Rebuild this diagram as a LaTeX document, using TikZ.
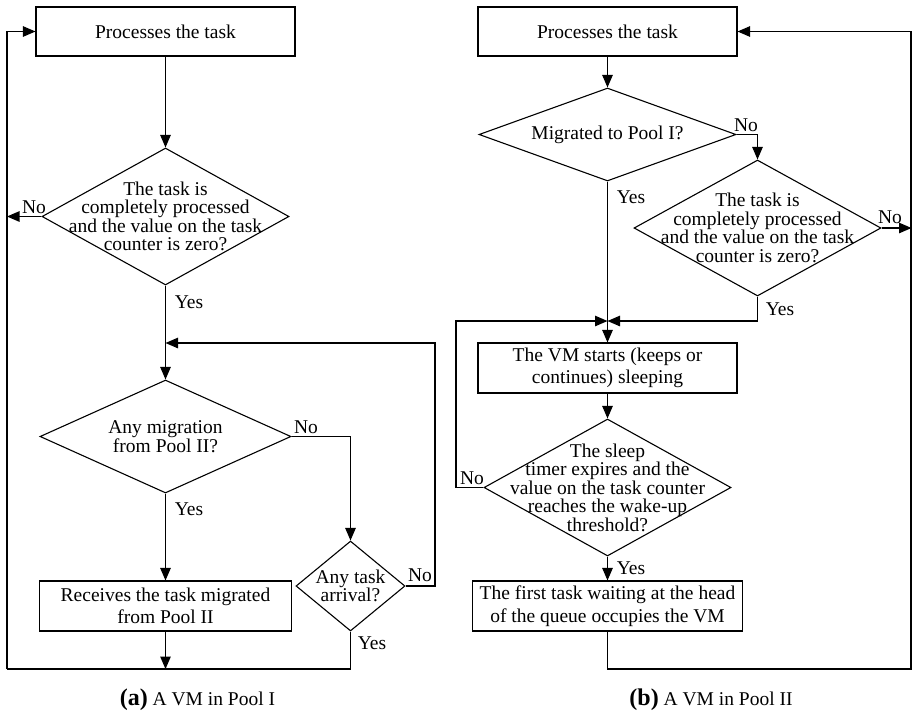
\documentclass[tikz,border=0pt]{standalone}
\usepackage{fontspec}
\setmainfont{Liberation Serif}
\usetikzlibrary{shapes.geometric,arrows.meta}
\newcommand\dfont{\fontsize{19.5}{18.5}\selectfont}
\newcommand\bfont{\fontsize{19.5}{22.5}\selectfont}
\tikzset{
  box/.style={draw, rectangle, line width=1.1pt, inner sep=0pt, align=center, font=\bfont},
  dia/.style={draw, diamond, line width=1.1pt, inner sep=0pt},
  dtext/.style={inner sep=0pt, align=center, font=\dfont},
  lbl/.style={inner sep=0pt, font=\dfont},
  arr/.style={line width=1.1pt, -{Triangle[length=12.5pt,width=10.5pt]}},
  ln/.style={line width=1.1pt},
}
\begin{document}
\begin{tikzpicture}[x=1pt,y=-1pt]
\useasboundingbox (0,0) rectangle (912,710);
% ---------- (a) ----------
\node[box, minimum width=259pt, minimum height=49pt] (p1) at (165.5,31.5) {Processes the task};
\node[dia, minimum width=247pt, minimum height=137pt] (d1) at (165.5,216.5) {};
\node[dtext] (t1) at (d1.center) {The task is\\completely processed\\and the value on the task\\counter is zero?};
\node[dia, minimum width=251pt, minimum height=113pt] (d2) at (165.5,436.5) {};
\node[dtext] (t2) at (d2.center) {Any migration\\from Pool II?};
\node[dia, minimum width=109pt, minimum height=90pt] (d3) at (350.5,586) {};
\node[dtext] (t3) at (d3.center) {Any task\\arrival?};
\node[box, minimum width=252pt, minimum height=50pt] (r1) at (165.5,606) {Receives the task migrated\\from Pool II};
\coordinate (lx) at (7,0);
\coordinate (bot) at (0,669);
\coordinate (rx) at (435,0);
\coordinate (mg) at (0,343);
\draw[arr] (p1.south) -- (d1.north);
\draw[arr] (d1.west) -- (d1.west -| lx);
\draw[arr] (lx |- bot) -- (lx |- p1.west) -- (p1.west);
\draw[ln] (lx |- bot) -- (d3.south |- bot) -- (d3.south);
\draw[arr] (r1.south) -- (r1.south |- bot);
\draw[arr] (d1.south) -- (d2.north);
\draw[arr] (d2.east) -| (d3.north);
\draw[arr] (d3.east) -| (rx |- mg) -- (d1.south |- mg);
\draw[arr] (d2.south) -- (r1.north);
\node[lbl] (n1) at (34,207) {No};
\node[lbl] (y1) at (189,302) {Yes};
\node[lbl] (n2) at (306,427) {No};
\node[lbl] (y2) at (189,509) {Yes};
\node[lbl] (n3) at (420,575) {No};
\node[lbl] (y3) at (372,643) {Yes};
\node[inner sep=0pt, anchor=base, font=\dfont] (capa) at (197.5,705) {{\fontsize{24}{24}\selectfont\bfseries (a)} A VM in Pool I};
% ---------- (b) ----------
\node[box, minimum width=259pt, minimum height=49pt] (p2) at (607.5,31.5) {Processes the task};
\node[dia, minimum width=257pt, minimum height=93pt] (d4) at (607.5,134.5) {};
\node[dtext] (t4) at (d4.center) {Migrated to Pool I?};
\node[dia, minimum width=247pt, minimum height=136pt] (d5) at (757.5,228) {};
\node[dtext] (t5) at (d5.center) {The task is\\completely processed\\and the value on the task\\counter is zero?};
\node[box, minimum width=259pt, minimum height=50pt] (s1) at (607.5,368) {The VM starts (keeps or\\continues) sleeping};
\node[dia, minimum width=247pt, minimum height=137pt] (d6) at (607.5,487.5) {};
\node[dtext] (t6) at (d6.center) {The sleep\\timer expires and the\\value on the task counter\\reaches the wake-up\\threshold?};
\node[box, minimum width=270pt, minimum height=50pt] (f1) at (607.5,606) {The first task waiting at the head\\of the queue occupies the VM};
\coordinate (rr) at (911,0);
\coordinate (m2) at (0,321);
\coordinate (lx2) at (456,0);
\coordinate (rend) at (911.5,0);
\draw[arr] (p2.south) -- (d4.north);
\draw[arr] (d4.east) -| (d5.north);
\draw[arr] (d5.east) -- (d5.east -| rend);
\draw[arr] (d4.south) -- (s1.north);
\draw[arr] (d5.south) |- (d4.south |- m2);
\draw[arr] (d6.west) -- (d6.west -| lx2) -- (lx2 |- m2) -- (d4.south |- m2);
\draw[arr] (s1.south) -- (d6.north);
\draw[arr] (d6.south) -- (f1.north);
\draw[arr] (f1.south) -- (f1.south |- bot) -- (rr |- bot) -- (rr |- p2.east) -- (p2.east);
\node[lbl] (n4) at (746,125) {No};
\node[lbl] (y4) at (631,197) {Yes};
\node[lbl] (n5) at (890,217) {No};
\node[lbl] (y5) at (780,309) {Yes};
\node[lbl] (n6) at (472,478) {No};
\node[lbl] (y6) at (631,568) {Yes};
\node[inner sep=0pt, anchor=base, font=\dfont] (capb) at (711,705) {{\fontsize{24}{24}\selectfont\bfseries (b)} A VM in Pool II};
\end{tikzpicture}
\end{document}
